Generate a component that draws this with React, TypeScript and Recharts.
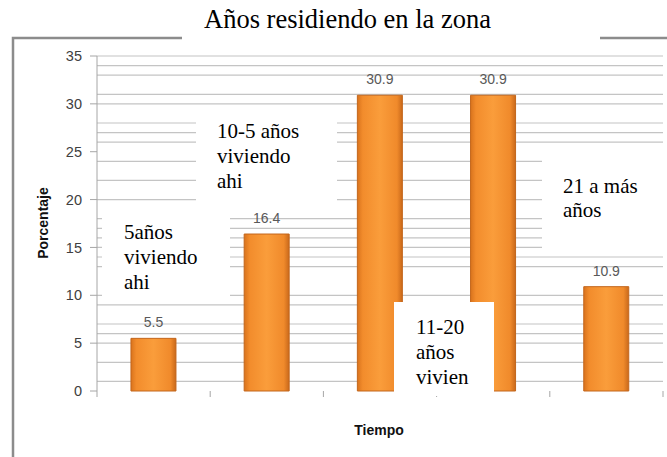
import React from 'react';
import { BarChart, Bar, XAxis, YAxis, CartesianGrid, LabelList } from 'recharts';

const categories = ['5 años', '10-5 años', '11-20 años', '11-20 años (2)', '21 a más años'];
const porcentajes = [5.5, 16.4, 30.9, 30.9, 10.9];
const yTicks = [0, 5, 10, 15, 20, 25, 30, 35];
const gridValues = [1, 3, 5, 6, 7, 9, 10, 13, 14, 15, 16, 17, 18, 20, 22, 24, 26, 27, 28, 30, 31, 33, 34, 35];
const title = 'Años residiendo en la zona';
const yTitle = 'Porcentaje';
const xTitle = 'Tiempo';
const note1 = ['5años', 'viviendo', 'ahi'];
const note2 = ['10-5 años', 'viviendo', 'ahi'];
const note3 = ['11-20', 'años', 'vivien'];
const note4 = ['21 a más', 'años'];

const data = categories.map((name, i) => ({ name, value: porcentajes[i] }));

const W = 667;
const H = 457;
const M = { top: 56, right: 4, bottom: 0, left: 0 };
const Y_W = 97;
const X_H = 66;
const STEP = (W - M.left - M.right - Y_W) / categories.length;

const serif = '"Liberation Serif", "Times New Roman", serif';
const sans = '"Liberation Sans", Arial, sans-serif';

function EdgeTick(props: any) {
  const { x, y, index } = props;
  const half = STEP / 2;
  return (
    <g>
      <line x1={x - half} y1={y} x2={x - half} y2={y + 6} stroke="#A6A6A6" />
      {index === categories.length - 1 ? (
        <line x1={x + half} y1={y} x2={x + half} y2={y + 6} stroke="#A6A6A6" />
      ) : null}
    </g>
  );
}

function Note({ x, y, w, h, tx, ty, lh, lines }: any) {
  return (
    <g>
      <rect x={x} y={y} width={w} height={h} fill="#ffffff" />
      {lines.map((l: string, i: number) => (
        <text key={i} x={tx} y={ty + i * lh} style={{ fontFamily: serif, fontSize: 21 }} fill="#000">
          {l}
        </text>
      ))}
    </g>
  );
}

export default function App() {
  return (
    <div style={{ position: 'absolute', left: 0, top: 0, width: W, height: H, background: '#fff' }}>
      <BarChart width={W} height={H} data={data} margin={M} barCategoryGap="30%">
        <defs>
          <linearGradient id="barGrad" x1="0" y1="0" x2="1" y2="0">
            <stop offset="0%" stopColor="#D9731D" />
            <stop offset="12%" stopColor="#F28C2C" />
            <stop offset="50%" stopColor="#FA9D3B" />
            <stop offset="88%" stopColor="#F08A2B" />
            <stop offset="100%" stopColor="#C9691B" />
          </linearGradient>
        </defs>
        <CartesianGrid vertical={false} horizontalValues={gridValues} stroke="#C4C4C4" strokeWidth={1.2} />
        <XAxis
          dataKey="name"
          interval={0}
          height={X_H}
          axisLine={false}
          tickLine={false}
          tickMargin={0}
          tickSize={0}
          tick={<EdgeTick />}
        />
        <YAxis
          domain={[0, 35]}
          ticks={yTicks}
          interval={0}
          width={Y_W}
          tickSize={7}
          tickMargin={8}
          axisLine={{ stroke: '#A6A6A6' }}
          tickLine={{ stroke: '#A6A6A6' }}
          tick={{ fill: '#404040', fontSize: 14.5, fontFamily: sans }}
        />
        <Bar dataKey="value" fill="url(#barGrad)" stroke="#C3661C" strokeWidth={1} isAnimationActive={false}>
          <LabelList dataKey="value" position="top" offset={11} fill="#595959" fontSize={14} fontFamily={sans} />
        </Bar>
      </BarChart>
      <svg width={W} height={H} style={{ position: 'absolute', left: 0, top: 0, pointerEvents: 'none' }}>
        <path d="M13,457 V38 H182 M600,38 H667" fill="none" stroke="#8C8C8C" strokeWidth={2.5} />
        <text x={347.5} y={28} textAnchor="middle" style={{ fontFamily: serif, fontSize: 26.5 }} fill="#000">
          {title}
        </text>
        <text
          x={43}
          y={223}
          transform="rotate(-90, 43, 223)"
          textAnchor="middle"
          dominantBaseline="central"
          style={{ fontFamily: sans, fontWeight: 'bold', fontSize: 14 }}
          fill="#111"
        >
          {yTitle}
        </text>
        <text
          x={379}
          y={430}
          textAnchor="middle"
          dominantBaseline="central"
          style={{ fontFamily: sans, fontWeight: 'bold', fontSize: 14 }}
          fill="#111"
        >
          {xTitle}
        </text>
        <Note x={102} y={207} w={128} h={93} tx={124} ty={238.6} lh={25} lines={note1} />
        <Note x={196} y={110} w={141} h={97} tx={217} ty={137.6} lh={25} lines={note2} />
        <Note x={394} y={302} w={100} h={94} tx={416} ty={333.6} lh={25} lines={note3} />
        <Note x={542} y={150} w={125} h={100} tx={563} ty={193} lh={24} lines={note4} />
      </svg>
    </div>
  );
}
